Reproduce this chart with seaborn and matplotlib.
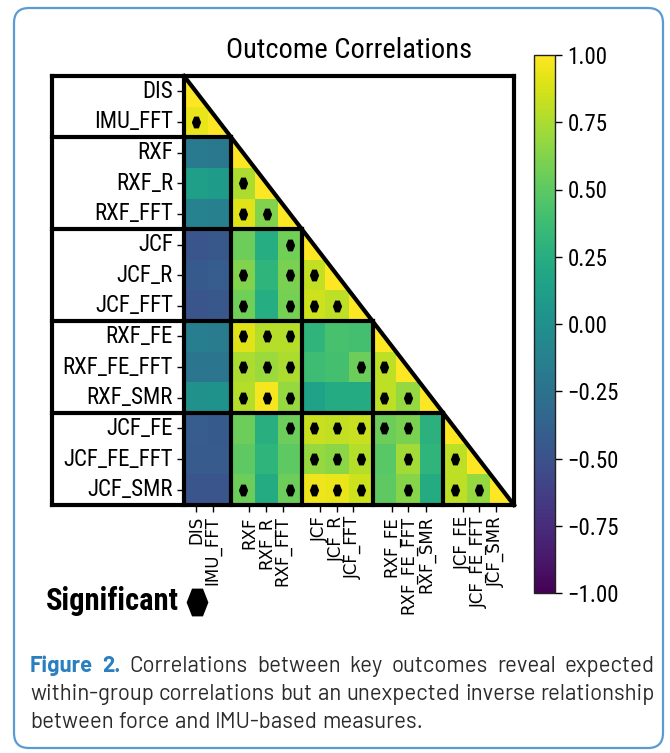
import numpy as np
import pandas as pd
import seaborn as sns
import matplotlib
matplotlib.use("Agg")
import matplotlib.pyplot as plt
import matplotlib.patches as mpatches
from matplotlib.lines import Line2D
from matplotlib.transforms import IdentityTransform

# ---------------- data ----------------
labels = ["DIS", "IMU_FFT", "RXF", "RXF_R", "RXF_FFT", "JCF", "JCF_R", "JCF_FFT",
          "RXF_FE", "RXF_FE_FFT", "RXF_SMR", "JCF_FE", "JCF_FE_FFT", "JCF_SMR"]

# lower-triangle correlations, one list per row (columns before the diagonal)
r_imu_fft = [0.93]
r_rxf = [-0.18, -0.20]
r_rxf_r = [0.12, 0.10, 0.75]
r_rxf_fft = [-0.12, -0.14, 0.90, 0.62]
r_jcf = [-0.47, -0.46, 0.55, 0.24, 0.57]
r_jcf_r = [-0.44, -0.42, 0.62, 0.30, 0.60, 0.82]
r_jcf_fft = [-0.47, -0.46, 0.57, 0.24, 0.58, 0.85, 0.80]
r_rxf_fe = [-0.15, -0.17, 0.90, 0.78, 0.78, 0.30, 0.42, 0.40]
r_rxf_fe_fft = [-0.22, -0.22, 0.75, 0.70, 0.75, 0.38, 0.40, 0.55, 0.80]
r_rxf_smr = [0.00, 0.02, 0.78, 0.97, 0.68, 0.15, 0.22, 0.22, 0.80, 0.68]
r_jcf_fe = [-0.42, -0.44, 0.55, 0.26, 0.55, 0.83, 0.82, 0.83, 0.55, 0.60, 0.28]
r_jcf_fe_fft = [-0.43, -0.43, 0.50, 0.30, 0.50, 0.68, 0.65, 0.78, 0.48, 0.72, 0.30, 0.80]
r_jcf_smr = [-0.48, -0.47, 0.55, 0.22, 0.55, 0.95, 0.93, 0.85, 0.50, 0.64, 0.22, 0.80, 0.68]

lower_rows = [[], r_imu_fft, r_rxf, r_rxf_r, r_rxf_fft, r_jcf, r_jcf_r, r_jcf_fft,
              r_rxf_fe, r_rxf_fe_fft, r_rxf_smr, r_jcf_fe, r_jcf_fe_fft, r_jcf_smr]

# significant pairs (row index, column index)
significant = [(1, 0),
               (3, 2), (4, 2), (4, 3),
               (5, 4), (6, 2), (6, 4), (6, 5), (7, 2), (7, 4), (7, 5), (7, 6),
               (8, 2), (8, 3), (8, 4),
               (9, 2), (9, 3), (9, 4), (9, 7), (9, 8),
               (10, 2), (10, 3), (10, 4), (10, 8), (10, 9),
               (11, 4), (11, 5), (11, 6), (11, 7), (11, 8), (11, 9),
               (12, 5), (12, 6), (12, 7), (12, 9), (12, 11),
               (13, 2), (13, 4), (13, 5), (13, 6), (13, 7), (13, 9), (13, 11), (13, 12)]

# variable groups (start index, size)
groups = [(0, 2), (2, 3), (5, 3), (8, 3), (11, 3)]

cbar_ticks = [-1.0, -0.75, -0.5, -0.25, 0.0, 0.25, 0.5, 0.75, 1.0]

caption_lines = [
    [("Figure", "lead"), ("2.", "lead"), ("Correlations", "body"), ("between", "body"),
     ("key", "body"), ("outcomes", "body"), ("reveal", "body"), ("expected", "body")],
    [("within-group", "body"), ("correlations", "body"), ("but", "body"), ("an", "body"),
     ("unexpected", "body"), ("inverse", "body"), ("relationship", "body")],
    [("between", "body"), ("force", "body"), ("and", "body"), ("IMU-based", "body"),
     ("measures.", "body")],
]

# ---------------- matrix ----------------
n = len(labels)
corr = np.eye(n)
for i, row in enumerate(lower_rows):
    for j, v in enumerate(row):
        corr[i, j] = v
        corr[j, i] = v
df = pd.DataFrame(corr, index=labels, columns=labels)
mask = np.triu(np.ones((n, n), dtype=bool), k=1)

# ---------------- figure ----------------
W, H = 670, 753
fig = plt.figure(figsize=(W / 100, H / 100), dpi=100)
narrow = ["Roboto Condensed", "DejaVu Sans"]
caption_font = ["Barlow", "Roboto", "DejaVu Sans"]

ax = fig.add_axes([184 / W, 1 - 505 / H, 330 / W, 429 / H])
cax = fig.add_axes([534 / W, 1 - 593 / H, 21 / W, 538 / H])

sns.heatmap(df, mask=mask, cmap="viridis", vmin=-1, vmax=1, ax=ax, cbar_ax=cax,
            square=False, linewidths=0)

# hide the part of the diagonal cells above the diagonal
ax.fill([0, n, n], [0, 0, n], color="white", zorder=3, lw=0)

# significance markers: vertically elongated hexagons
hex_marker = [(0.68, 0.0), (0.34, 0.866), (-0.34, 0.866), (-0.68, 0.0),
              (-0.34, -0.866), (0.34, -0.866), (0.68, 0.0)]
sig_rows = [r + 0.5 for r, c in significant]
sig_cols = [c + 0.5 for r, c in significant]
ax.scatter(sig_cols, sig_rows, marker=hex_marker, s=8.5 ** 2, color="black",
           linewidths=0, zorder=4)

# block outlines
left_x = -5.6
lw = 3.0
kw = dict(color="black", lw=lw, clip_on=False, zorder=6, solid_capstyle="projecting")
ax.plot([left_x, n], [0, 0], **kw)
ax.plot([left_x, n], [n, n], **kw)
ax.plot([left_x, left_x], [0, n], **kw)
ax.plot([n, n], [0, n], **kw)
ax.plot([0, 0], [0, n], **kw)
ax.plot([0, n], [0, n], color="black", lw=lw, clip_on=False, zorder=6)
for start, size in groups[1:]:
    ax.plot([left_x, start], [start, start], **kw)
    ax.plot([start, start], [start, n], **kw)
for s in ax.spines.values():
    s.set_visible(False)

# tick labels
ax.set_yticks([i + 0.5 for i in range(n)])
ax.set_yticklabels(labels, rotation=0, fontsize=16.5, family=narrow)
xtick_pos = [0.51, 1.22, 2.77, 3.48, 4.19, 5.77, 6.48, 7.18,
             8.81, 9.52, 10.27, 11.82, 12.53, 13.24]
ax.set_xticks(xtick_pos)
ax.set_xticklabels(labels, rotation=90, fontsize=12, family="DejaVu Sans")
ax.tick_params(axis="both", length=5, width=1, color="black", pad=3)
ax.set_xlabel("")
ax.set_ylabel("")

# colorbar
cb = ax.collections[0].colorbar
cb.set_ticks(cbar_ticks)
cb.set_ticklabels([f"{t:.2f}".replace("-", "\u2212") for t in cbar_ticks])
cax.tick_params(length=5, width=1, color="black", pad=4)
for t in cax.get_yticklabels():
    t.set_fontsize(16.5)
    t.set_family(narrow)
cb.outline.set_edgecolor("#222222")
cb.outline.set_linewidth(1.0)

# title
fig.text(349 / W, 1 - 51 / H, "Outcome Correlations", ha="center", va="center",
         fontsize=20.5, family=narrow)

# significance key
fig.text(46 / W, 1 - 601 / H, "Significant", ha="left", va="center",
         fontsize=22, fontweight="bold", family=narrow)
fig.add_artist(Line2D([197 / W], [1 - 602 / H], marker=hex_marker, markersize=20,
                      color="black", markeredgewidth=0, transform=fig.transFigure))

# outer rounded frame
frame = mpatches.FancyBboxPatch((14, H - 748), 649, 740,
                                boxstyle="round,pad=0,rounding_size=15",
                                transform=IdentityTransform(), fill=False,
                                edgecolor="#5b9bd5", lw=1.6)
fig.add_artist(frame)

# caption, justified over the first two lines
renderer = fig.canvas.get_renderer()
x0, x1 = 30, 655
baselines = [672, 700, 728]

# pick the size at which the second line fills the text width with normal spacing
probe = [fig.text(0, 0, w, fontsize=10, family=caption_font) for w, _ in caption_lines[1]]
probe_w = sum(p.get_window_extent(renderer).width for p in probe)
space_w = 0.22 * 10 * 100 / 72
for p in probe:
    p.remove()
cap_size = 10 * (x1 - x0) / (probe_w + space_w * (len(caption_lines[1]) - 1))

styles = {
    "lead": dict(fontsize=cap_size, family=caption_font, fontweight="bold", color="#2a7fc1"),
    "body": dict(fontsize=cap_size, family=caption_font, color="#2b2b2b"),
}
for li, (words, yb) in enumerate(zip(caption_lines, baselines)):
    arts = [fig.text(0, 1 - yb / H, w, va="baseline", ha="left", **styles[st])
            for w, st in words]
    widths = [a.get_window_extent(renderer).width for a in arts]
    if li < len(caption_lines) - 1:
        gap = (x1 - x0 - sum(widths)) / (len(arts) - 1)
    else:
        gap = 0.22 * cap_size * 100 / 72
    x = x0
    for a, w in zip(arts, widths):
        a.set_x(x / W)
        x += w + gap

fig.savefig("out.png", dpi=100)
